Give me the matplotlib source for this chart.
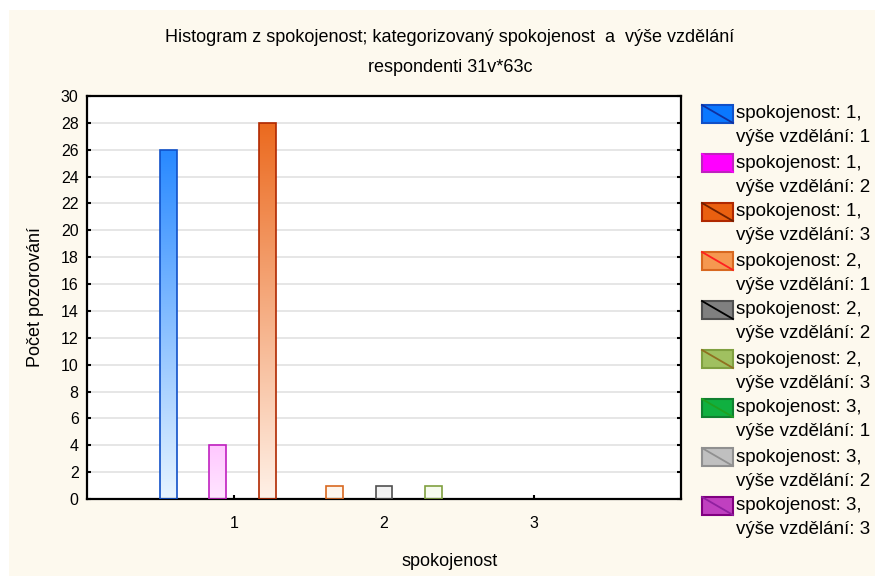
import matplotlib.pyplot as plt
from matplotlib.patches import Rectangle
from matplotlib.lines import Line2D
from matplotlib.colors import to_rgb
import numpy as np

plt.rcParams['font.family'] = ['Liberation Sans', 'DejaVu Sans']

# spokojenost categories and the 9 groups (spokojenost, vyse vzdelani)
categories = [1, 2, 3]
spokojenost = [1, 1, 1, 2, 2, 2, 3, 3, 3]
vzdelani = [1, 2, 3, 1, 2, 3, 1, 2, 3]
counts = [26, 4, 28, 1, 1, 1, 0, 0, 0]

# style per group
fill_cols = ['#0a78ff', '#ff00ff', '#ea6010', '#f59850', '#808080',
             '#a0c060', '#10b040', '#c0c0c0', '#c040c0']
edge_cols = ['#1050c8', '#c020c0', '#b02800', '#d86820', '#505050',
             '#80a040', '#108030', '#909090', '#800080']
diag_cols = ['#1030a0', '#ff00ff', '#702000', '#ff2020', '#000000',
             '#907020', '#20a020', '#909090', '#9020a0']
offsets = [-0.437, -0.107, 0.223, -0.33, 0.0, 0.333, -0.33, 0.0, 0.333]
bar_w = 0.113
cream = '#fdf9ee'
fs = 13

W, H = 875, 576
fig = plt.figure(figsize=(W / 100, H / 100), dpi=100, facecolor='white')
fig.patches.append(Rectangle((9 / W, 0), 1, (H - 10) / H, transform=fig.transFigure,
                             facecolor=cream, edgecolor='none', zorder=-10))

ax = fig.add_axes([87 / W, (H - 499) / H, (681 - 87) / W, (499 - 96) / H])
ax.set_facecolor('white')

for sp, c, fc, ec, off in zip(spokojenost, counts, fill_cols, edge_cols, offsets):
    if c <= 0:
        continue
    x0 = sp + off - bar_w / 2
    base = np.array(to_rgb(fc))
    t = np.linspace(0, 1, 256)[:, None]
    low = 0.88 * np.ones(3) + 0.12 * base
    low = np.clip(low + 0.02, 0, 1)
    grad = low[None, :] * (1 - t) + base[None, :] * t
    img = ax.imshow(grad[:, None, :], extent=[x0, x0 + bar_w, 0, 30], origin='lower',
                    aspect='auto', zorder=2, interpolation='bilinear')
    rect = Rectangle((x0, 0), bar_w, c, facecolor='none', edgecolor=ec, lw=1.2, zorder=3)
    ax.add_patch(rect)
    img.set_clip_path(rect)

ax.set_xlim(0.02, 3.98)
ax.set_ylim(0, 30)
ax.set_yticks(range(0, 31, 2))
ax.set_xticks(categories)
ax.yaxis.grid(True, color='#e2e2e2', lw=1.2)
ax.set_axisbelow(True)
ax.tick_params(axis='both', direction='in', length=3, width=1.5, labelsize=11.5,
               color='black', pad=6, right=True)
ax.tick_params(axis='x', pad=12)
for s in ax.spines.values():
    s.set_linewidth(1.6)

ax.set_ylabel('Počet pozorování', fontsize=fs, labelpad=12)
fig.text(450 / W, 1 - 562 / H, 'spokojenost', ha='center', va='center', fontsize=fs)
fig.text(450 / W, 1 - 37 / H, 'Histogram z spokojenost; kategorizovaný spokojenost  a  výše vzdělání',
         ha='center', va='center', fontsize=fs)
fig.text(450 / W, 1 - 67 / H, 'respondenti 31v*63c', ha='center', va='center', fontsize=fs)

# legend
for i in range(len(counts)):
    yc = 114 + 49 * i
    x0, x1 = 702 / W, 733 / W
    y0, y1 = 1 - (yc + 9) / H, 1 - (yc - 9) / H
    fig.patches.append(Rectangle((x0, y0), x1 - x0, y1 - y0, transform=fig.transFigure,
                                 facecolor=fill_cols[i], edgecolor=edge_cols[i], lw=1.5))
    fig.lines.append(Line2D([x0, x1], [y1, y0], transform=fig.transFigure,
                            color=diag_cols[i], lw=1.3))
    fig.text(736 / W, 1 - yc / H, 'spokojenost: %d,' % spokojenost[i],
             ha='left', va='center', fontsize=13.5)
    fig.text(736 / W, 1 - (yc + 24) / H, 'výše vzdělání: %d' % vzdelani[i],
             ha='left', va='center', fontsize=13.5)

fig.savefig('out.png', dpi=100, facecolor=fig.get_facecolor())
